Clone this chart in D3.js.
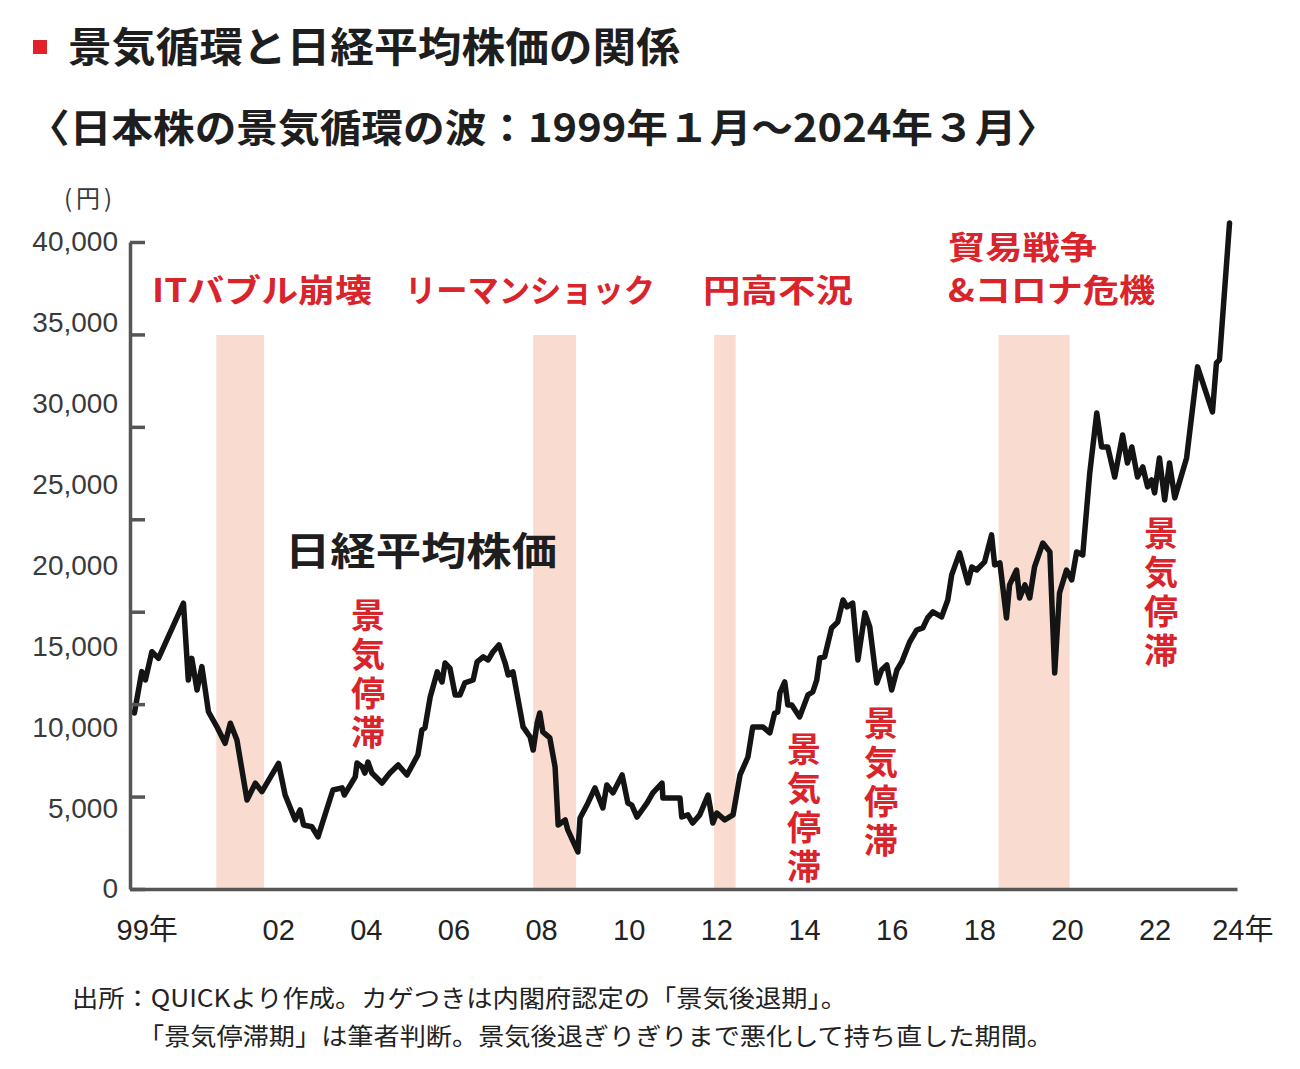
<!DOCTYPE html>
<html><head><meta charset="utf-8">
<script src="https://cdn.jsdelivr.net/npm/d3@7"></script>
<style>body{margin:0;background:#fff} svg{display:block}</style>
</head><body><svg id="c" width="1300" height="1069"></svg>
<script>
// ---- data ----
const dates = [1999.22,1999.39,1999.47,1999.62,1999.77,2000.34,2000.45,2000.53,2000.65,2000.76,
2000.91,2001.10,2001.29,2001.41,2001.56,2001.79,2001.98,2002.13,2002.51,2002.66,
2002.89,2003.00,2003.08,2003.27,2003.41,2003.75,2003.96,2004.01,2004.26,2004.30,
2004.42,2004.48,2004.55,2004.64,2004.87,2005.05,2005.24,2005.44,2005.69,2005.78,
2005.85,2005.97,2006.13,2006.24,2006.31,2006.42,2006.54,2006.65,2006.76,2006.95,
2007.04,2007.18,2007.29,2007.40,2007.54,2007.68,2007.75,2007.86,2008.09,2008.25,
2008.32,2008.41,2008.47,2008.54,2008.70,2008.82,2008.89,2009.05,2009.11,2009.34,
2009.39,2009.57,2009.73,2009.91,2010.00,2010.14,2010.35,2010.48,2010.57,2010.69,
2010.92,2011.05,2011.26,2011.28,2011.67,2011.71,2011.85,2011.96,2012.12,2012.31,
2012.42,2012.51,2012.69,2012.88,2013.04,2013.22,2013.33,2013.56,2013.72,2013.83,
2013.90,2013.95,2014.06,2014.13,2014.22,2014.40,2014.59,2014.70,2014.79,2014.86,
2014.97,2015.13,2015.27,2015.39,2015.48,2015.61,2015.73,2015.89,2016.00,2016.16,
2016.27,2016.39,2016.50,2016.62,2016.73,2016.91,2017.07,2017.21,2017.32,2017.44,
2017.64,2017.78,2017.87,2018.05,2018.24,2018.33,2018.44,2018.62,2018.78,2018.85,
2018.97,2019.12,2019.19,2019.35,2019.42,2019.54,2019.65,2019.76,2019.95,2020.11,
2020.22,2020.33,2020.49,2020.61,2020.72,2020.86,2021.02,2021.18,2021.29,2021.43,
2021.59,2021.77,2021.88,2021.98,2022.11,2022.23,2022.34,2022.43,2022.50,2022.61,
2022.73,2022.84,2022.96,2023.23,2023.48,2023.82,2023.91,2023.98,2024.21];
const nikkei = [10880,13440,12920,14670,14260,17670,12920,14260,12300,13750,
10960,10040,9010,10250,9210,5500,6540,6020,7770,5810,
4270,4890,3960,3850,3220,6120,6250,5810,6930,7790,
7540,7170,7850,7170,6550,7170,7670,7050,8290,9830,
9960,11870,13420,12800,13970,13660,12000,12000,12740,12920,
14040,14350,14160,14650,15090,13970,13230,13420,10020,9400,
8590,10260,10880,9710,9340,7540,3960,4270,3650,2290,
4390,5320,6250,5010,6430,5940,7050,5320,5190,4450,
5320,5940,6550,5630,5630,4450,4580,4080,4580,5810,
4080,4700,4270,4580,7050,8160,10020,10020,9650,10880,
10940,12120,12800,11380,11380,10640,12000,12180,12920,14280,
14350,16140,16510,17870,17440,17680,14160,17070,16200,12740,
13540,13850,12300,13540,14040,15270,16010,16140,16760,17130,
16820,17870,19420,20780,18920,19910,19720,20220,21890,20030,
20160,16760,18800,19720,17990,18800,17990,19910,21390,20840,
13360,18300,19720,19110,20840,20650,25720,29430,27330,27330,
25470,28070,26340,27330,25470,26090,24860,25290,24490,26650,
24050,26340,24180,26650,32280,29490,32520,32710,41180];

const recessionStart = [2001.09, 2008.32, 2012.45, 2018.94];
const recessionEnd   = [2002.18, 2009.30, 2012.94, 2020.56];
const recessionTop = 34250;

const yTickValues = [0,5000,10000,15000,20000,25000,30000,35000,40000];
const xTickYears  = [1999,2002,2004,2006,2008,2010,2012,2014,2016,2018,2020,2022,2024];
const xTickLabels = ["99年","02","04","06","08","10","12","14","16","18","20","22","24年"];
const tickMarkSteps = [0,1,2,3,4,5,6,7];

const eventNames = ["ITバブル崩壊","リーマンショック","円高不況","貿易戦争","&コロナ危機"];
const stagnationLabel = "景気停滞";
const title = "景気循環と日経平均株価の関係";
const subtitle = "〈日本株の景気循環の波：1999年１月〜2024年３月〉";
const note1 = "出所：QUICKより作成。カゲつきは内閣府認定の「景気後退期」。";
const note2 = "「景気停滞期」は筆者判断。景気後退ぎりぎりまで悪化して持ち直した期間。";

// ---- drawing ----
const svg = d3.select("#c");
const JP = "'Noto Sans CJK JP','Noto Sans',sans-serif";
const RED = "#d9242c";
const x = d3.scaleLinear().domain([1999.12, 2024.38]).range([130, 1237]);
const y = d3.scaleLinear().domain([0, 40000]).range([889, 242]);
const yMarks = d3.scaleLinear().domain([0, 7]).range([889, 242]);

// recession bands
svg.append("g").selectAll("rect").data(recessionStart).join("rect")
  .attr("x", (d) => x(d))
  .attr("width", (d, i) => x(recessionEnd[i]) - x(d))
  .attr("y", y(recessionTop))
  .attr("height", y(0) - y(recessionTop))
  .attr("fill", "#f9dccf");

// line
const pts = dates.map((t, i) => ({t, v: nikkei[i]}));
svg.append("path").datum(pts)
  .attr("d", d3.line().x(d => x(d.t)).y(d => y(d.v)))
  .attr("fill", "none").attr("stroke", "#141414")
  .attr("stroke-width", 5.5).attr("stroke-linejoin", "round").attr("stroke-linecap", "round");

// y axis: labels
const yAx = svg.append("g").attr("transform", "translate(118,0)")
  .call(d3.axisLeft(y).tickValues(yTickValues).tickSize(0).tickPadding(0).tickFormat(d3.format(",")));
yAx.select(".domain").remove();
yAx.selectAll("text").attr("font-family", "'Liberation Sans',Arial,sans-serif")
  .attr("font-size", 28).attr("fill", "#3a3a3a");

// y axis: line & tick marks
const yMk = svg.append("g").attr("transform", "translate(130,0)")
  .call(d3.axisRight(yMarks).tickValues(tickMarkSteps).tickSize(15).tickSizeOuter(0).tickFormat(""));
yMk.select(".domain").attr("stroke", "#555").attr("stroke-width", 3.5);
yMk.selectAll(".tick line").attr("stroke", "#555").attr("stroke-width", 3.5);

// x axis
const xAx = svg.append("g").attr("transform", "translate(0,889)")
  .call(d3.axisBottom(x).tickValues(xTickYears.map(v => v + 0.5)).tickSize(0).tickPadding(30)
    .tickFormat((d, i) => xTickLabels[i]));
xAx.select(".domain").attr("stroke", "#555").attr("stroke-width", 3.5);
xAx.selectAll("text").attr("font-family", "'Liberation Sans'," + JP)
  .attr("font-size", 29).attr("fill", "#222");

// unit
svg.append("text").attr("x", 64).attr("y", 207).attr("font-family", JP).attr("font-size", 24)
  .attr("fill", "#3a3a3a").attr("letter-spacing", 4).text("(円)");

// titles
svg.append("rect").attr("x", 33).attr("y", 40).attr("width", 14).attr("height", 14).attr("fill", "#e3202b");
svg.append("text").attr("x", 68).attr("y", 62).attr("font-family", JP).attr("font-weight", 700)
  .attr("font-size", 41).attr("fill", "#1e1e1e").attr("textLength", 612)
  .attr("lengthAdjust", "spacingAndGlyphs").text(title);
svg.append("text").attr("x", 28).attr("y", 142).attr("font-family", JP).attr("font-weight", 700)
  .attr("font-size", 39).attr("fill", "#1e1e1e").attr("textLength", 1030)
  .attr("lengthAdjust", "spacingAndGlyphs").text(subtitle);

// event labels
const evPos = [[152, 302, 220], [405, 302, 250], [703, 302, 150], [948, 259, 149], [948, 302, 207]];
svg.append("g").selectAll("text").data(eventNames).join("text")
  .attr("x", (d, i) => evPos[i][0]).attr("y", (d, i) => evPos[i][1])
  .attr("textLength", (d, i) => evPos[i][2]).attr("lengthAdjust", "spacingAndGlyphs")
  .attr("font-family", JP).attr("font-weight", 700).attr("font-size", 32).attr("fill", RED)
  .text(d => d);

// series label
svg.append("text").attr("x", 285).attr("y", 565).attr("font-family", JP).attr("font-weight", 700)
  .attr("font-size", 39).attr("fill", "#1e1e1e").attr("textLength", 272)
  .attr("lengthAdjust", "spacingAndGlyphs").text("日経平均株価");

// vertical "景気停滞" labels
const stagPos = [[368, 598], [804, 732], [881, 706], [1161, 516]];
svg.append("g").selectAll("text").data(stagPos).join("text")
  .attr("x", d => d[0]).attr("y", d => d[1])
  .style("writing-mode", "vertical-rl").attr("letter-spacing", 5)
  .attr("font-family", JP).attr("font-weight", 700)
  .attr("font-size", 34).attr("fill", RED).text(stagnationLabel);

// notes
svg.append("text").attr("x", 72).attr("y", 1007).attr("font-family", JP).attr("font-size", 24)
  .attr("fill", "#222").attr("textLength", 775).attr("lengthAdjust", "spacingAndGlyphs").text(note1);
svg.append("text").attr("x", 138).attr("y", 1045).attr("font-family", JP).attr("font-size", 24)
  .attr("fill", "#222").attr("textLength", 915).attr("lengthAdjust", "spacingAndGlyphs").text(note2);
</script></body></html>
